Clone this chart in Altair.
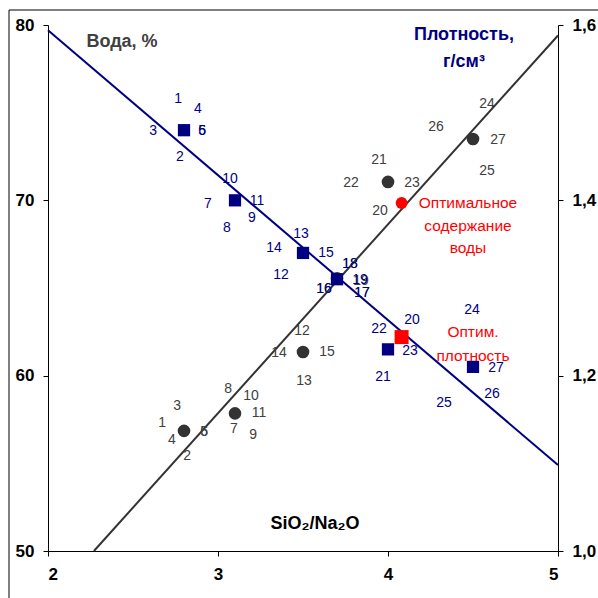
import altair as alt
import pandas as pd

# ---------------- data ----------------
ratio_x = [2.8, 3.1, 3.5, 3.7, 4.0, 4.5]
water_pct = [74.0, 70.0, 67.0, 65.5, 61.5, 60.5]
density = [1.137, 1.157, 1.227, 1.311, 1.421, 1.470]

opt_x = [4.08]
opt_water = [62.2]
opt_density = [1.397]

water_line_x = [2.0, 5.0]
water_line_y = [79.7, 54.9]
dens_line_x = [2.27, 5.0]
dens_line_y = [1.0, 1.588]

# sample-number labels, water group (blue)
wl_text = ["1", "4", "3", "5", "6", "2", "10", "11", "7", "9", "8", "14", "12", "13", "15",
           "18", "19", "16", "17", "22", "20", "23", "21", "24", "27", "26", "25"]
wl_x = [2.765, 2.882, 2.618, 2.906, 2.906, 2.776, 3.071, 3.229, 2.941, 3.200, 3.053, 3.329, 3.371,
        3.488, 3.635, 3.776, 3.835, 3.624, 3.847, 3.947, 4.141, 4.129, 3.971, 4.494, 4.635, 4.612, 4.329]
wl_y = [75.78, 75.21, 73.95, 73.95, 73.95, 72.47, 71.22, 69.96, 69.79, 68.99, 68.42, 67.28, 65.74,
        68.08, 66.99, 66.37, 65.45, 64.94, 64.71, 62.66, 63.17, 61.40, 59.92, 63.74, 60.43, 58.95, 58.44]

# sample-number labels, density group (grey)
dl_text = ["3", "1", "4", "5", "6", "2", "8", "10", "11", "7", "9", "14", "12", "15", "13",
           "18", "19", "16", "17", "24", "26", "27", "25", "21", "22", "23", "20"]
dl_x = [2.759, 2.671, 2.729, 2.918, 2.918, 2.818, 3.059, 3.194, 3.241, 3.094, 3.206, 3.359, 3.494,
        3.641, 3.506, 3.776, 3.841, 3.624, 3.847, 4.582, 4.282, 4.647, 4.582, 3.947, 3.782, 4.141, 3.953]
dl_y = [1.165, 1.146, 1.127, 1.136, 1.136, 1.108, 1.185, 1.177, 1.157, 1.139, 1.132, 1.226, 1.251,
        1.227, 1.194, 1.327, 1.308, 1.299, 1.294, 1.510, 1.484, 1.469, 1.433, 1.446, 1.420, 1.420, 1.388]

x_ticks = [2, 3, 4, 5]
water_ticks = [50, 60, 70, 80]
dens_ticks = [1.0, 1.2, 1.4, 1.6]

# ---------------- styles ----------------
NAVY = "#000080"
GREY = "#333333"
RED = "#FF0000"
FONT = "Liberation Sans"
NUM_SIZE = 14

x_scale = alt.Scale(domain=[2, 5], nice=False, zero=False)
x_axis = alt.Axis(values=x_ticks, format="d", title=None, labelPadding=10, orient="bottom")
w_scale = alt.Scale(domain=[50, 80], nice=False, zero=False)
w_axis = alt.Axis(values=water_ticks, format="d", title=None, orient="left", labelPadding=9)
d_scale = alt.Scale(domain=[1.0, 1.6], nice=False, zero=False)
d_axis = alt.Axis(values=dens_ticks, title=None, orient="right", labelPadding=9,
                  labelExpr="replace(format(datum.value, '.1f'), '.', ',')")


def X(f):
    return alt.X(f, type="quantitative", scale=x_scale, axis=x_axis)


def WY(f):
    return alt.Y(f, type="quantitative", scale=w_scale, axis=w_axis)


def DY(f):
    return alt.Y(f, type="quantitative", scale=d_scale, axis=d_axis)


# ---------------- density group (right axis) ----------------
dens_line_df = pd.DataFrame({"x": dens_line_x, "y": dens_line_y})
dens_pts_df = pd.DataFrame({"x": ratio_x, "y": density})
dens_opt_df = pd.DataFrame({"x": opt_x, "y": opt_density})
dl_df = pd.DataFrame({"x": dl_x, "y": dl_y, "t": dl_text})

dens_layer = alt.layer(
    alt.Chart(dens_line_df).mark_line(color=GREY, strokeWidth=2).encode(x=X("x"), y=DY("y")),
    alt.Chart(dl_df).mark_text(font=FONT, fontSize=NUM_SIZE, color="#404040").encode(
        x=X("x"), y=DY("y"), text="t:N"),
    alt.Chart(dens_pts_df).mark_point(shape="circle", filled=True, size=160, color=GREY, opacity=1).encode(
        x=X("x"), y=DY("y")),
    alt.Chart(dens_opt_df).mark_point(shape="circle", filled=True, size=140, color=RED, opacity=1).encode(
        x=X("x"), y=DY("y")),
)

# ---------------- water group (left axis) ----------------
water_line_df = pd.DataFrame({"x": water_line_x, "y": water_line_y})
water_pts_df = pd.DataFrame({"x": ratio_x, "y": water_pct})
water_opt_df = pd.DataFrame({"x": opt_x, "y": opt_water})
wl_df = pd.DataFrame({"x": wl_x, "y": wl_y, "t": wl_text})

one = pd.DataFrame({"a": [0]})

water_layer = alt.layer(
    alt.Chart(water_line_df).mark_line(color=NAVY, strokeWidth=2).encode(x=X("x"), y=WY("y")),
    alt.Chart(wl_df).mark_text(font=FONT, fontSize=NUM_SIZE, color=NAVY).encode(
        x=X("x"), y=WY("y"), text="t:N"),
    alt.Chart(water_pts_df).mark_point(shape="square", filled=True, size=150, color=NAVY, opacity=1).encode(
        x=X("x"), y=WY("y")),
    alt.Chart(water_opt_df).mark_point(shape="square", filled=True, size=196, color=RED, opacity=1).encode(
        x=X("x"), y=WY("y")),
)

# ---------------- decorations ----------------
deco = alt.layer(
    alt.Chart(one).mark_text(font=FONT, fontSize=18, fontWeight="bold", color="#404040").encode(
        x=alt.value(74), y=alt.value(17), text=alt.value("Вода, %")),
    alt.Chart(one).mark_text(font=FONT, fontSize=18, fontWeight="bold", color=NAVY).encode(
        x=alt.value(416), y=alt.value(10), text=alt.value("Плотность,")),
    alt.Chart(one).mark_text(font=FONT, fontSize=18, fontWeight="bold", color=NAVY).encode(
        x=alt.value(416), y=alt.value(37), text=alt.value("г/см³")),
    alt.Chart(one).mark_text(font=FONT, fontSize=18, fontWeight="bold", color="black").encode(
        x=alt.value(267), y=alt.value(499), text=alt.value("SiO₂/Na₂O")),
    alt.Chart(one).mark_text(font=FONT, fontSize=15.5, color=RED, lineBreak="\n", lineHeight=22.5,
                             baseline="middle").encode(
        x=alt.value(420), y=alt.value(178), text=alt.value("Оптимальное\nсодержание\nводы")),
    alt.Chart(one).mark_text(font=FONT, fontSize=15.5, color=RED, lineBreak="\n", lineHeight=24,
                             baseline="middle").encode(
        x=alt.value(425), y=alt.value(307), text=alt.value("Оптим.\nплотность")),
    alt.Chart(one).mark_rect(fillOpacity=0, stroke="black", strokeWidth=1).encode(
        x=alt.value(-39), x2=alt.value(700), y=alt.value(-15), y2=alt.value(700)),
)

chart = alt.layer(
    alt.layer(dens_layer, water_layer).resolve_scale(y="independent"),
    deco,
).properties(
    width=510, height=526,
    autosize=alt.AutoSizeParams(type="none"),
    padding={"left": 48, "top": 25, "right": 40, "bottom": 47},
    background="white",
).configure_view(stroke=None).configure_axis(
    grid=False,
    domainColor="black", domainWidth=1,
    tickColor="black", tickSize=5, tickWidth=1,
    labelFont=FONT, labelFontSize=17, labelFontWeight="bold", labelColor="black",
)

chart.save("out.html", embed_options={"renderer": "svg", "actions": False})
